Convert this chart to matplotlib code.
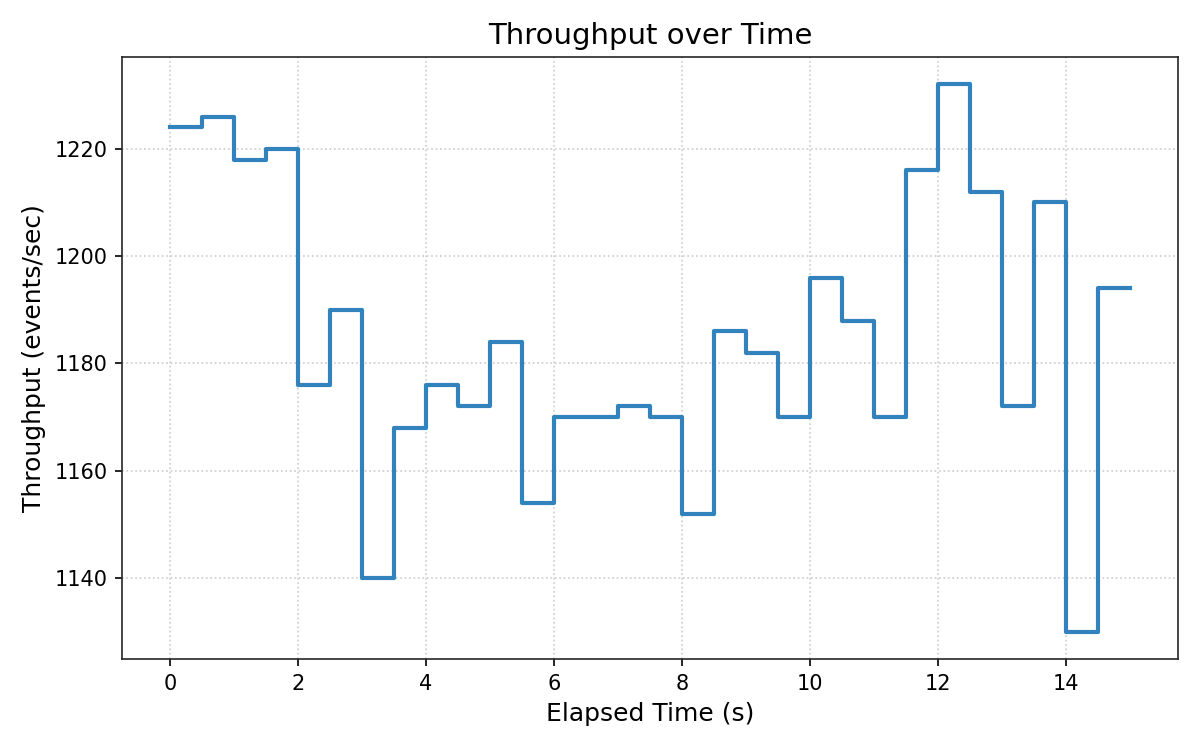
import matplotlib
matplotlib.use("Agg")
import matplotlib.pyplot as plt

# elapsed time (s) and throughput samples, step drawn with where='post'
elapsed_s = [0, 0.5, 1, 1.5, 2, 2.5, 3, 3.5, 4, 4.5, 5, 5.5, 6, 6.5, 7, 7.5,
             8, 8.5, 9, 9.5, 10, 10.5, 11, 11.5, 12, 12.5, 13, 13.5, 14, 14.5, 15]
throughput = [1224, 1226, 1218, 1220, 1176, 1190, 1140, 1168, 1176, 1172,
              1184, 1154, 1170, 1170, 1172, 1170, 1152, 1186, 1182, 1170,
              1196, 1188, 1170, 1216, 1232, 1212, 1172, 1210, 1130, 1194, 1194]

fig, ax = plt.subplots(figsize=(8, 5), dpi=150)
ax.step(elapsed_s, throughput, where='post', color='#3182bd', linewidth=2)

ax.set_title('Throughput over Time', fontsize=14)
ax.set_xlabel('Elapsed Time (s)', fontsize=12)
ax.set_ylabel('Throughput (events/sec)', fontsize=12)
ax.grid(True, linestyle=':', color='#cccccc', linewidth=0.8)
ax.set_axisbelow(True)
for s in ax.spines.values():
    s.set_color('#262626')

fig.subplots_adjust(left=0.1017, right=0.9817, top=0.924, bottom=0.121)
fig.savefig('out.png', dpi=150)
